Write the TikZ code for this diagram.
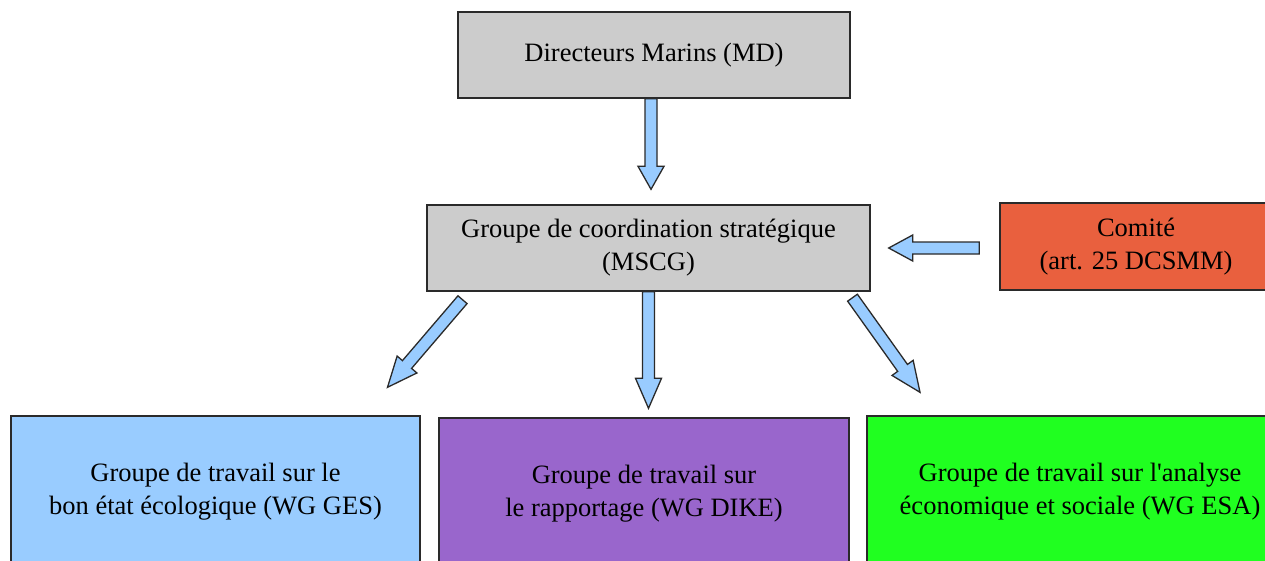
\documentclass[tikz,border=0pt]{standalone}
\usepackage{fontspec}
\setmainfont{Liberation Serif}[Ligatures=TeXOff]
\usetikzlibrary{calc}

\definecolor{boxgray}{HTML}{CCCCCC}
\definecolor{comitered}{HTML}{E9603E}
\definecolor{gesblue}{HTML}{99CCFF}
\definecolor{dikepurple}{HTML}{9966CC}
\definecolor{esagreen}{HTML}{20FF20}
\definecolor{arrowblue}{HTML}{99CCFF}
\definecolor{edgecol}{HTML}{2A2A2A}

\tikzset{
  box/.style={rectangle, draw=edgecol, line width=1.4pt, inner sep=0pt,
    align=center, text=black, font=\fontsize{26.5}{33}\selectfont},
  barrow/.style={draw=edgecol, line width=1.3pt, fill=arrowblue, line join=miter},
}

% Block arrow from #2 to #3 with a head of length #1
\newcommand\blockarrow[3][25pt]{%
  \coordinate (hb) at ($(#3)!#1!(#2)$);
  \draw[barrow]
    ($(#2)!6pt!90:(#3)$) -- ($(hb)!6pt!90:(#3)$) -- ($(hb)!13pt!90:(#3)$)
    -- (#3)
    -- ($(hb)!13pt!-90:(#3)$) -- ($(hb)!6pt!-90:(#3)$) -- ($(#2)!6pt!-90:(#3)$)
    -- cycle;
}

\begin{document}
\begin{tikzpicture}[x=1pt, y=-1pt]
  \useasboundingbox (0,0) rectangle (1265,560);
  \fill[white] (0,0) rectangle (1265,560);
  \clip (0,0) rectangle (1265,560);

  % boxes
  \node[box, fill=boxgray, minimum width=392pt, minimum height=86pt]
    (md) at (654,55) {Directeurs Marins (MD)};
  \node[box, fill=boxgray, minimum width=443pt, minimum height=86pt]
    (mscg) at (648.5,248) {Groupe de coordination stratégique\\(MSCG)};
  \node[box, fill=comitered, minimum width=272pt, minimum height=87pt]
    (comite) at (1136,246.5) {Comité\\(art. 25 DCSMM)};
  \node[box, fill=gesblue, minimum width=409pt, minimum height=151pt]
    (ges) at (215.5,491.5) {Groupe de travail sur le\\bon état écologique (WG GES)};
  \node[box, fill=dikepurple, minimum width=410pt, minimum height=152pt]
    (dike) at (644,494) {Groupe de travail sur\\le rapportage (WG DIKE)};
  \node[box, fill=esagreen, minimum width=426pt, minimum height=151pt]
    (esa) at (1080,491.5) {Groupe de travail sur l'analyse\\économique et sociale (WG ESA)};

  % arrow end points
  \coordinate (a1s) at ($(md.south)+(-3,0)$);
  \coordinate (a1t) at ($(mscg.north)+(2.5,-15)$);
  \coordinate (a2s) at ($(mscg.south)+(0,0)$);
  \coordinate (a2t) at ($(dike.north)+(4.5,-9)$);
  \coordinate (a3s) at ($(mscg.south)+(-186,8)$);
  \coordinate (a3t) at ($(ges.north)+(172,-28)$);
  \coordinate (a4s) at ($(mscg.south)+(204,6)$);
  \coordinate (a4t) at ($(esa.north)+(-160,-23)$);
  \coordinate (a5s) at ($(comite.west)+(-20,1.5)$);
  \coordinate (a5t) at ($(mscg.east)+(18,0)$);

  % connectors
  \blockarrow[23pt]{a1s}{a1t}
  \blockarrow[30pt]{a2s}{a2t}
  \blockarrow[30pt]{a3s}{a3t}
  \blockarrow[30pt]{a4s}{a4t}
  \blockarrow[24pt]{a5s}{a5t}
\end{tikzpicture}
\end{document}
